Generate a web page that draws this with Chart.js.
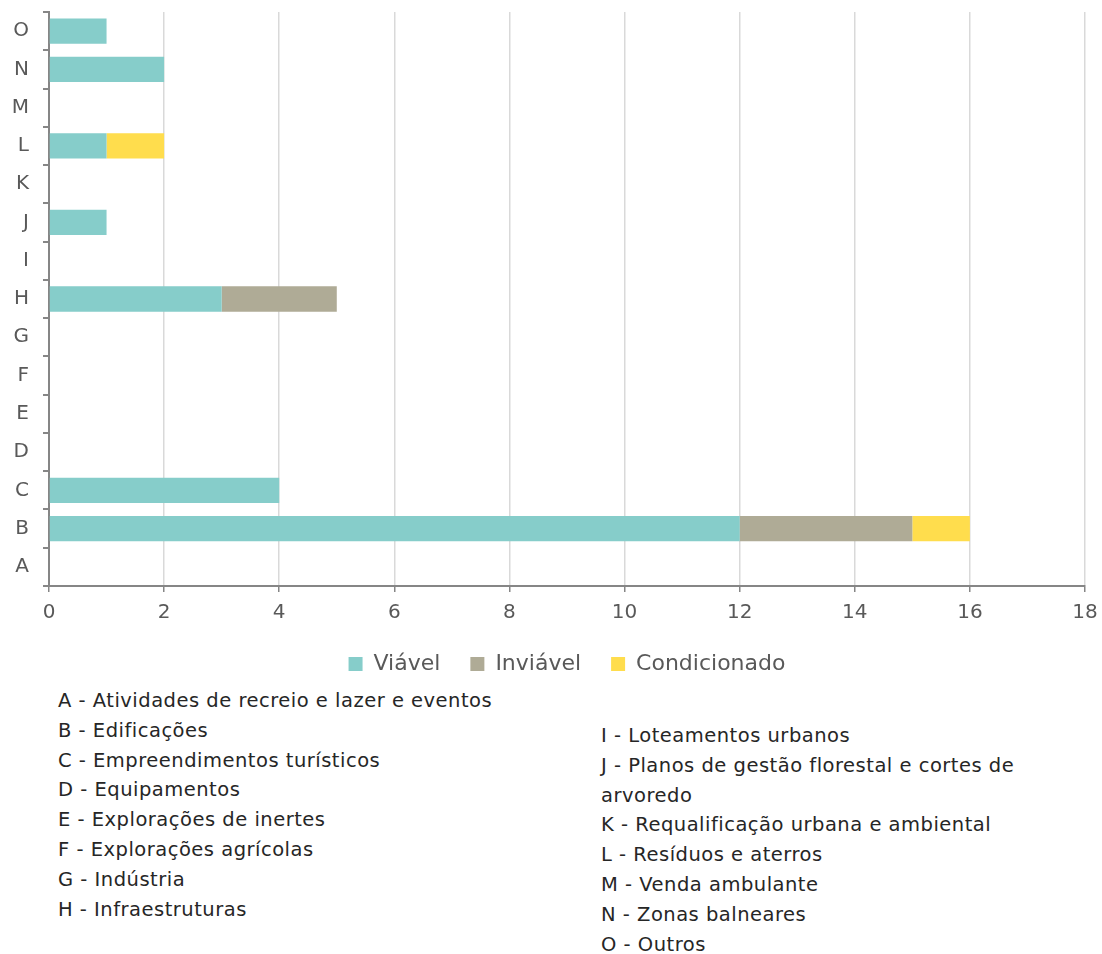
<!DOCTYPE html>
<html>
<head>
<meta charset="utf-8">
<script src="https://cdn.jsdelivr.net/npm/chart.js@4/dist/chart.umd.min.js"></script>
<style>
  html, body { margin: 0; padding: 0; background: #fff; }
  #wrap { position: relative; width: 1102px; height: 954px; overflow: hidden; }
  #chartBox { position: absolute; left: 0; top: 0; width: 1102px; height: 685px; }
  .notes { position: absolute; font-family: "DejaVu Sans", sans-serif; font-size: 19.5px; letter-spacing: 0.5px; color: #262626; line-height: 29.8px; white-space: nowrap; }
  #notesLeft { left: 58px; top: 686px; }
  #notesRight { left: 601px; top: 721px; }
</style>
</head>
<body>
<div id="wrap">
  <div id="chartBox"><canvas id="c" width="1102" height="685"></canvas></div>
  <div class="notes" id="notesLeft"></div>
  <div class="notes" id="notesRight"></div>
</div>
<script>
// Categories (bottom to top on the chart)
const categories = ['A','B','C','D','E','F','G','H','I','J','K','L','M','N','O'];

// Number of cases per category and outcome
const viavel       = [0, 12, 4, 0, 0, 0, 0, 3, 0, 1, 0, 1, 0, 2, 1];
const inviavel     = [0,  3, 0, 0, 0, 0, 0, 2, 0, 0, 0, 0, 0, 0, 0];
const condicionado = [0,  1, 0, 0, 0, 0, 0, 0, 0, 0, 0, 1, 0, 0, 0];

const seriesNames = ['Viável', 'Inviável', 'Condicionado'];

// Key to the category letters
const notesLeft = [
  'A - Atividades de recreio e lazer e eventos',
  'B - Edificações',
  'C - Empreendimentos turísticos',
  'D - Equipamentos',
  'E - Explorações de inertes',
  'F - Explorações agrícolas',
  'G - Indústria',
  'H - Infraestruturas'
];
const notesRight = [
  'I - Loteamentos urbanos',
  'J - Planos de gestão florestal e cortes de',
  'arvoredo',
  'K - Requalificação urbana e ambiental',
  'L - Resíduos e aterros',
  'M - Venda ambulante',
  'N - Zonas balneares',
  'O - Outros'
];

function fillNotes(id, lines) {
  const el = document.getElementById(id);
  lines.forEach(t => {
    const d = document.createElement('div');
    d.textContent = t;
    el.appendChild(d);
  });
}
fillNotes('notesLeft', notesLeft);
fillNotes('notesRight', notesRight);

const FONT = '"DejaVu Sans", sans-serif';
const AXIS_GREY = '#868686';
const barOpts = { barPercentage: 0.66, categoryPercentage: 1.0, borderWidth: 0 };

new Chart(document.getElementById('c'), {
  type: 'bar',
  data: {
    labels: categories,
    datasets: [
      Object.assign({ label: seriesNames[0], data: viavel, backgroundColor: '#86CDCA' }, barOpts),
      Object.assign({ label: seriesNames[1], data: inviavel, backgroundColor: '#AFAB96' }, barOpts),
      Object.assign({ label: seriesNames[2], data: condicionado, backgroundColor: '#FFDD4D' }, barOpts)
    ]
  },
  options: {
    indexAxis: 'y',
    responsive: false,
    animation: false,
    layout: { padding: { left: 4, right: 17, top: 12, bottom: 0 } },
    plugins: {
      tooltip: { enabled: false },
      legend: {
        position: 'bottom',
        fullSize: false,
        labels: {
          font: { family: FONT, size: 22 },
          color: '#595959',
          boxWidth: 14,
          boxHeight: 14,
          padding: 30
        }
      }
    },
    scales: {
      x: {
        stacked: true,
        min: 0,
        max: 18,
        ticks: { stepSize: 2, font: { family: FONT, size: 20 }, color: '#595959', padding: 9 },
        grid: { color: '#d9d9d9', lineWidth: 1.5, tickColor: AXIS_GREY, tickLength: 6 },
        border: { color: AXIS_GREY, width: 2 },
        afterFit(scale) {
          scale.paddingLeft = 0;
          scale.paddingRight = 0;
          scale.height -= 11;
        }
      },
      y: {
        stacked: true,
        reverse: true,
        ticks: { font: { family: FONT, size: 20 }, color: '#595959', padding: 14 },
        grid: { drawOnChartArea: false, offset: true, tickColor: AXIS_GREY, tickLength: 6, lineWidth: 2 },
        border: { color: AXIS_GREY, width: 2 },
        afterFit(scale) {
          scale.width = 45;
          scale.paddingTop = 0;
          scale.paddingBottom = 0;
        }
      }
    }
  }
});
</script>
</body>
</html>
